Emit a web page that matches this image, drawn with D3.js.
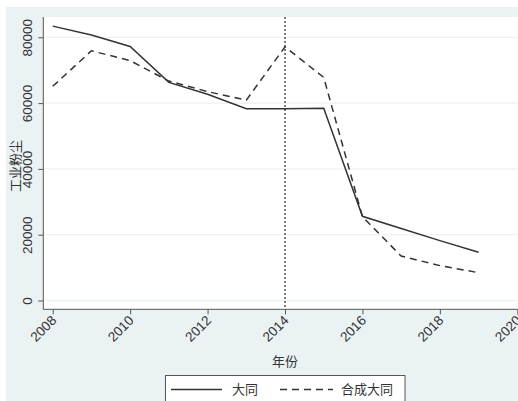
<!DOCTYPE html>
<html>
<head>
<meta charset="utf-8">
<script src="https://cdn.jsdelivr.net/npm/d3@7"></script>
<style>
  html, body { margin: 0; padding: 0; background: #ffffff; }
  svg { display: block; }
  text { font-family: "Liberation Sans", Arial, "Noto Sans CJK SC", sans-serif; fill: #333; }
  .cjk { font-family: "Noto Sans CJK SC", "Liberation Sans", sans-serif; }
</style>
</head>
<body>
<script>
// Industrial dust emissions: Datong vs. synthetic Datong
const years = [2008, 2009, 2010, 2011, 2012, 2013, 2014, 2015, 2016, 2017, 2018, 2019];
const datong = [83400, 80700, 77200, 66300, 62700, 58300, 58300, 58400, 25600, 21900, 18200, 14650];
const synthDatong = [65100, 75900, 72900, 66700, 63500, 60900, 77100, 67800, 25500, 13500, 10600, 8450];
const yTicks = [0, 20000, 40000, 60000, 80000];
const xTicks = [2008, 2010, 2012, 2014, 2016, 2018, 2020];
const treatYear = 2014;
const seriesNames = ["大同", "合成大同"];
const yLabel = "工业粉尘";
const xLabel = "年份";

const W = 518, H = 401;
const plot = { left: 43.3, right: 517.7, top: 17, bottom: 309.3 };

const svg = d3.select("body").append("svg").attr("width", W).attr("height", H);

// outer graph region
svg.append("rect").attr("x", 6).attr("y", 7).attr("width", W - 6).attr("height", H - 7)
  .attr("fill", "#eaf2f3");
// plot region
svg.append("rect").attr("x", plot.left).attr("y", plot.top)
  .attr("width", plot.right - plot.left).attr("height", plot.bottom - plot.top)
  .attr("fill", "#ffffff");

const x = d3.scaleLinear().domain([2007.757, 2020.01]).range([plot.left, plot.right]);
const y = d3.scaleLinear().domain([-2675, 86170]).range([plot.bottom, plot.top]);

// horizontal gridlines
svg.append("g").selectAll("line").data(yTicks).join("line")
  .attr("x1", plot.left).attr("x2", plot.right)
  .attr("y1", d => y(d)).attr("y2", d => y(d))
  .attr("stroke", "#eaf2f3").attr("stroke-width", 1.3);

// y axis
const yAxis = svg.append("g").attr("transform", `translate(${plot.left},0)`)
  .call(d3.axisLeft(y).tickValues(yTicks).tickSize(5).tickPadding(4).tickFormat(d3.format("d")));
yAxis.select(".domain").attr("stroke", "#555").attr("d", `M0,${plot.bottom}V${plot.top}`);
yAxis.selectAll(".tick line").attr("stroke", "#555");
yAxis.selectAll(".tick text")
  .attr("transform", "rotate(-90)")
  .attr("x", 0).attr("y", -11)
  .attr("dy", 0)
  .attr("text-anchor", "middle")
  .style("font-size", "13.5px").style("fill", "#333");

// x axis
const xAxis = svg.append("g").attr("transform", `translate(0,${plot.bottom})`)
  .call(d3.axisBottom(x).tickValues(xTicks).tickSize(5).tickFormat(d3.format("d")));
xAxis.select(".domain").attr("stroke", "#555").attr("d", `M${plot.left},0H${plot.right}`);
xAxis.selectAll(".tick line").attr("stroke", "#555");
xAxis.selectAll(".tick text")
  .attr("y", 0).attr("dy", 0)
  .attr("transform", "translate(4,12) rotate(-45)")
  .attr("text-anchor", "end")
  .style("font-size", "13.5px").style("fill", "#333");

d3.selectAll(".tick text").attr("font-family", null);

// treatment year marker
svg.append("line")
  .attr("x1", x(treatYear)).attr("x2", x(treatYear))
  .attr("y1", plot.top).attr("y2", plot.bottom)
  .attr("stroke", "#444").attr("stroke-width", 1.4)
  .attr("stroke-dasharray", "2,2");

const line = d3.line().x(d => x(d[0])).y(d => y(d[1]));

svg.append("path")
  .datum(years.map((yr, i) => [yr, datong[i]]))
  .attr("d", line).attr("fill", "none")
  .attr("stroke", "#333").attr("stroke-width", 1.5);

svg.append("path")
  .datum(years.map((yr, i) => [yr, synthDatong[i]]))
  .attr("d", line).attr("fill", "none")
  .attr("stroke", "#333").attr("stroke-width", 1.5)
  .attr("stroke-dasharray", "7,5");

// axis titles
svg.append("text").attr("class", "cjk")
  .attr("transform", "translate(20,166) rotate(-90)")
  .attr("text-anchor", "middle")
  .style("font-size", "13px").style("fill", "#333")
  .text(yLabel);

svg.append("text").attr("class", "cjk")
  .attr("x", 285).attr("y", 366)
  .attr("text-anchor", "middle")
  .style("font-size", "13px").style("fill", "#333")
  .text(xLabel);

// legend
const lg = svg.append("g");
lg.append("rect").attr("x", 165.5).attr("y", 375.5).attr("width", 239.5).attr("height", 40)
  .attr("fill", "#ffffff").attr("stroke", "#555").attr("stroke-width", 1);
lg.append("line").attr("x1", 171).attr("x2", 222).attr("y1", 389.5).attr("y2", 389.5)
  .attr("stroke", "#333").attr("stroke-width", 1.5);
lg.append("text").attr("class", "cjk").attr("x", 232).attr("y", 394)
  .style("font-size", "13px").style("fill", "#333").text(seriesNames[0]);
lg.append("line").attr("x1", 280).attr("x2", 333).attr("y1", 389.5).attr("y2", 389.5)
  .attr("stroke", "#333").attr("stroke-width", 1.5).attr("stroke-dasharray", "7,5");
lg.append("text").attr("class", "cjk").attr("x", 341).attr("y", 394)
  .style("font-size", "13px").style("fill", "#333").text(seriesNames[1]);
</script>
</body>
</html>
